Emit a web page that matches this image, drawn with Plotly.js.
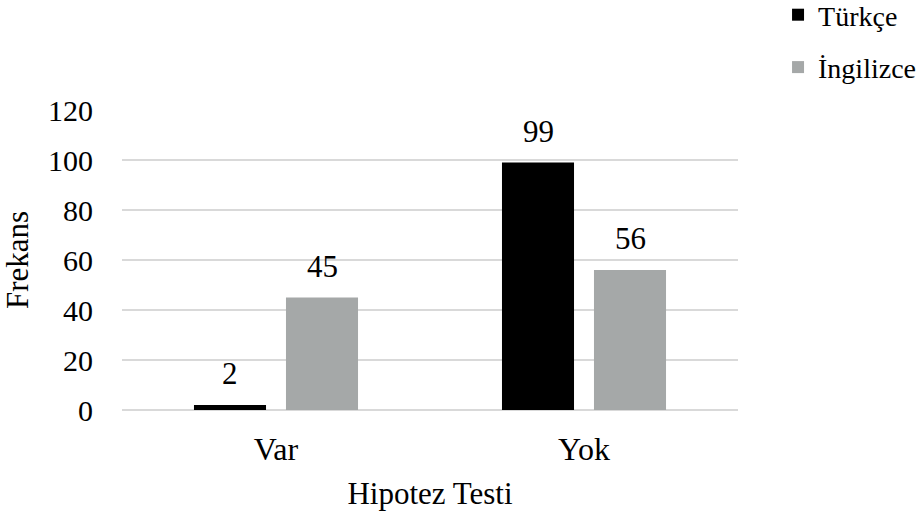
<!DOCTYPE html>
<html><head><meta charset="utf-8">
<script src="https://cdn.plot.ly/plotly-3.0.1.min.js"></script>
<style>body{margin:0;background:#fff}#c{width:920px;height:516px}</style>
</head><body><div id="c"></div>
<script>
const categories = ["Var", "Yok"];
const turkce = [2, 99];
const ingilizce = [45, 56];
const seriesNames = ["Türkçe", "İngilizce"];
const yTicks = [0, 20, 40, 60, 80, 100, 120];

const ff = "Liberation Serif, Times New Roman, serif";
const traces = [
  {type: "bar", name: seriesNames[0], x: categories, y: turkce, marker: {color: "#000000"},
   hoverinfo: "none", legendgroup: "a"},
  {type: "bar", name: seriesNames[1], x: categories, y: ingilizce, marker: {color: "#a5a8a8"},
   hoverinfo: "none", legendgroup: "b"}
];
// value labels above bars (grouped offsets of half a bar slot)
const annotations = [];
[turkce, ingilizce].forEach((vals, si) => {
  vals.forEach((v, i) => {
    annotations.push({x: categories[i], y: v, xref: "x", yref: "y", text: String(v),
      showarrow: false, yanchor: "bottom", xshift: si === 0 ? -46 : 46, yshift: 12,
      font: {family: ff, size: 31, color: "#000"}});
  });
});
const layout = {
  width: 920, height: 516,
  margin: {l: 122, r: 182, t: 110, b: 106, autoexpand: false},
  paper_bgcolor: "#fff", plot_bgcolor: "#fff",
  font: {family: ff, size: 30, color: "#000"},
  barmode: "group", bargap: 0.4026, bargroupgap: 0.217,
  showlegend: true,
  annotations: annotations,
  legend: {x: 1.065, xanchor: "left", y: 1.4, yanchor: "top",
           font: {family: ff, size: 28, color: "#000"},
           traceorder: "grouped", tracegroupgap: 13, itemwidth: 30},
  xaxis: {showgrid: false, showline: false, ticks: "", zeroline: false, automargin: false,
          tickfont: {family: ff, size: 32}, ticklabelstandoff: 17,
          title: {text: "Hipotez Testi", font: {family: ff, size: 31}, standoff: 16}},
  yaxis: {range: [0, 120], tickvals: yTicks, ticktext: yTicks.map(String), automargin: false,
          showgrid: true, gridcolor: "#d9d9d9", gridwidth: 1.3, zeroline: true, zerolinecolor: "#d9d9d9", zerolinewidth: 1.3,
          showline: false, ticks: "", tickfont: {family: ff, size: 30}, ticklabelstandoff: 28,
          title: {text: "Frekans", font: {family: ff, size: 31}, standoff: 14}}
};
Plotly.newPlot("c", traces, layout, {displayModeBar: false, staticPlot: true});
</script></body></html>
